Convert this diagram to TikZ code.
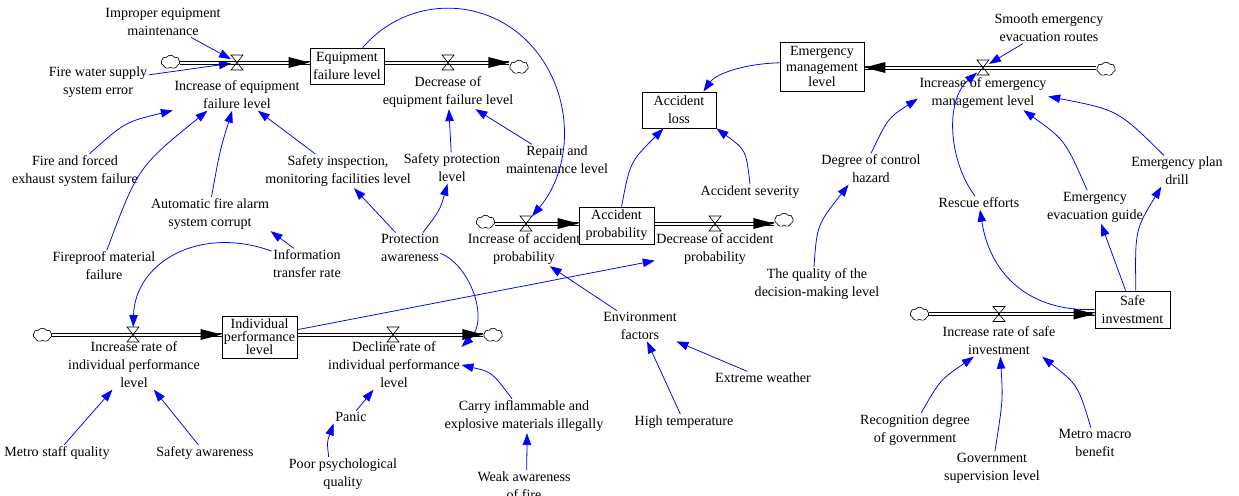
\documentclass[tikz,border=0pt]{standalone}
\usepackage{fontspec}
\setmainfont{Liberation Serif}
\usetikzlibrary{arrows.meta,shapes.symbols,shapes.geometric}
% filled head of a flow pipe; #2 = 1 points right, -1 points left
\newcommand\flowhead[2]{\fill[black] (#1) -- ++(#2*-21,-5.5) -- ++(0,11) -- cycle;}
% a flow pipe: two parallel black rails
\newcommand\flowpipe[2]{%
  \draw[rail] ([yshift=-1.05pt]#1) -- ([yshift=-1.05pt]#2);
  \draw[rail] ([yshift=1.05pt]#1) -- ([yshift=1.05pt]#2);}
\begin{document}
\begin{tikzpicture}[x=0.025cm,y=-0.025cm,
  lbl/.style={align=center,inner sep=1pt,font=\fontsize{10}{12.8}\selectfont,text=black},
  stock/.style={draw=black,line width=0.6pt,align=center,inner sep=0pt,font=\fontsize{10}{12.8}\selectfont},
  valve/.style={minimum width=0.3cm,minimum height=0.375cm,inner sep=0pt,outer sep=0pt},
  valveline/.style={draw=black,line width=0.45pt},
  cloudsink/.style={cloud,cloud puffs=7,cloud puff arc=110,cloud ignores aspect,draw=black,line width=0.45pt,inner sep=0pt,minimum width=0.47cm,minimum height=0.34cm},
  rail/.style={draw=black,line width=0.6pt},
  conn/.style={draw=blue,line width=0.55pt,-{Triangle[length=8.5pt,width=6pt]}}]
\useasboundingbox (0,0) rectangle (1239,495);
\fill[white] (0,0) rectangle (1239,495);

% ---------- stocks ----------
\node[stock,minimum width=1.85cm,minimum height=0.9cm] (efl) at (347,66) {Equipment\\failure level};
\node[stock,minimum width=1.85cm,minimum height=0.9cm] (al) at (679,110) {Accident\\loss};
\node[stock,minimum width=2.1cm,minimum height=1.225cm,font=\fontsize{10}{11}\selectfont] (eml) at (822,66.5) {Emergency\\management\\level};
\node[stock,minimum width=1.875cm,minimum height=0.925cm] (apb) at (616.5,225.5) {Accident\\probability};
\node[stock,minimum width=1.875cm,minimum height=1.05cm,font=\fontsize{10}{9.2}\selectfont] (ipl) at (259.5,337) {Individual\\performance\\level};
\node[stock,minimum width=1.875cm,minimum height=0.925cm] (si) at (1132.5,309.5) {Safe\\investment};

% ---------- valves ----------
\node[valve] (v1) at (237,62.5) {};
\node[valve] (v2) at (448,62.5) {};
\node[valve] (v3) at (526,223.5) {};
\node[valve] (v4) at (715,223.5) {};
\node[valve] (v5) at (983,67.5) {};
\node[valve] (v6) at (999,314) {};
\node[valve] (v7) at (133,334.5) {};
\node[valve] (v8) at (393,334.5) {};

% ---------- sources and sinks ----------
\node[cloudsink] (c1) at (170.5,62) {};
\node[cloudsink] (c2) at (519,67) {};
\node[cloudsink] (c3) at (485.5,222) {};
\node[cloudsink] (c4) at (784,220) {};
\node[cloudsink] (c5) at (1106,69) {};
\node[cloudsink] (c6) at (919.5,314) {};
\node[cloudsink] (c7) at (42.5,335) {};
\node[cloudsink] (c8) at (493,335) {};

% ---------- variables ----------
\node[lbl] (imp) at (163,22) {Improper equipment\\maintenance};
\node[lbl] (fws) at (98,82) {Fire water supply\\system error};
\node[lbl] (iefl) at (237,95) {Increase of equipment\\failure level};
\node[lbl] (defl) at (448,92) {Decrease of\\equipment failure level};
\node[lbl] (ffe) at (75,171) {Fire and forced\\exhaust system failure};
\node[lbl] (sim) at (338,171) {Safety inspection,\\monitoring facilities level};
\node[lbl] (spl) at (452,168) {Safety protection\\level};
\node[lbl] (rml) at (557,160) {Repair and\\maintenance level};
\node[lbl] (afa) at (210,214) {Automatic fire alarm\\system corrupt};
\node[lbl] (fmf) at (104,266) {Fireproof material\\failure};
\node[lbl] (info) at (307,264) {Information\\transfer rate};
\node[lbl] (pa) at (410,248) {Protection\\awareness};
\node[lbl] (iap) at (524,249) {Increase of accident\\probability};
\node[lbl] (dap) at (715,249) {Decrease of accident\\probability};
\node[lbl] (as) at (750,192) {Accident severity};
\node[lbl] (seer) at (1049,28) {Smooth emergency\\evacuation routes};
\node[lbl] (iem) at (983,93) {Increase of emergency\\management level};
\node[lbl] (dch) at (871,169) {Degree of control\\hazard};
\node[lbl] (re) at (979,203) {Rescue efforts};
\node[lbl] (eeg) at (1095,207) {Emergency\\evacuation guide};
\node[lbl] (epd) at (1177,171) {Emergency plan\\drill};
\node[lbl] (tqd) at (817,284) {The quality of the\\decision-making level};
\node[lbl] (irsi) at (999,341) {Increase rate of safe\\investment};
\node[lbl] (rdg) at (915,430) {Recognition degree\\of government};
\node[lbl] (gsl) at (992,468) {Government\\supervision level};
\node[lbl] (mmb) at (1095,443) {Metro macro\\benefit};
\node[lbl] (env) at (640,326) {Environment\\factors};
\node[lbl] (ew) at (763,378) {Extreme weather};
\node[lbl] (ht) at (684,422) {High temperature};
\node[lbl] (cim) at (524,416) {Carry inflammable and\\explosive materials illegally};
\node[lbl] (waf) at (524,486) {Weak awareness\\of fire};
\node[lbl] (irip) at (134,365) {Increase rate of\\individual performance\\level};
\node[lbl] (dril) at (394,365) {Decline rate of\\individual performance\\level};
\node[lbl] (msq) at (57,453) {Metro staff quality};
\node[lbl] (sa) at (205,453) {Safety awareness};
\node[lbl] (panic) at (351,417) {Panic};
\node[lbl] (ppq) at (343,474) {Poor psychological\\quality};

% ---------- causal links ----------
% equipment failure
\draw[conn] (imp) -- (v1);
\draw[conn] (fws.8) -- (v1);
\draw[conn] (ffe.50) .. controls (125,122) .. (iefl);
\draw[conn] (afa.85) .. controls (220,150) .. (iefl);
\draw[conn] (fmf.80) .. controls (138,167) .. (iefl.-152);
\draw[conn] (sim) -- (iefl);
\draw[conn] (spl) -- (defl);
\draw[conn] (rml) -- (defl);
\draw[conn] (pa) -- (sim);
\draw[conn] (pa.50) .. controls (440,210) .. (spl);
\draw[conn] (info.130) -- (afa.south east);
\draw[conn] (efl) .. controls (406,-3) and (482,-5) .. (528,42) .. controls (574,89) and (575,165) .. (v3);

% individual performance
\draw[conn] (info) .. controls (200,225) and (135,262) .. (v7);
\draw[conn] (pa.-10) .. controls (470,265) and (490,320) .. (dril.15);
\draw[conn] (ipl) -- (dap);
\draw[conn] (msq) -- (irip);
\draw[conn] (sa) -- (irip);
\draw[conn] (panic) -- (dril);
\draw[conn] (ppq.130) .. controls (327,442) .. (panic.south west);
\draw[conn] (cim.125) .. controls (492,372) .. (dril.east);
\draw[conn] (waf.80) -- (cim.-80);

% accident probability and loss
\draw[conn] (env) -- (iap);
\draw[conn] (ew) -- (env);
\draw[conn] (ht) -- (env);
\draw[conn] (apb.75) .. controls (630,162) .. (al.-130);
\draw[conn] (as.north) .. controls (746,150) .. (al.south east);
\draw[conn] (eml.175) .. controls (740,64) and (715,75) .. (al.37);

% emergency management
\draw[conn] (seer) -- (v5);
\draw[conn] (dch.north) .. controls (888,118) .. (iem.185);
\draw[conn] (tqd.100) .. controls (817,225) .. (dch.-145);
\draw[conn] (re.120) .. controls (948,160) and (945,100) .. (v5);
\draw[conn] (eeg.115) .. controls (1065,140) .. (iem.-23);
\draw[conn] (epd.130) .. controls (1118,110) .. (iem.-3);
\draw[conn] (si.west) .. controls (1030,312) and (990,275) .. (re);
\draw[conn] (si.110) -- (eeg);
\draw[conn] (si.80) .. controls (1135,230) .. (epd.-135);

% safe investment
\draw[conn] (rdg.70) .. controls (940,380) .. (irsi.-148);
\draw[conn] (gsl.80) .. controls (1003,400) .. (irsi.-85);
\draw[conn] (mmb.105) .. controls (1078,385) .. (irsi.-20);

% ---------- flow pipes ----------
\flowpipe{c1.east |- v1}{v1 -| efl.west}
\flowpipe{v2 -| efl.east}{v2 -| c2.west}
\flowpipe{c3.east |- v3}{v3 -| apb.west}
\flowpipe{v4 -| apb.east}{v4 -| c4.west}
\flowpipe{c5.west |- v5}{v5 -| eml.east}
\flowpipe{c6.east |- v6}{v6 -| si.west}
\flowpipe{c7.east |- v7}{v7 -| ipl.west}
\flowpipe{v8 -| ipl.east}{v8 -| c8.west}

\coordinate (h1) at (v1 -| efl.west);
\coordinate (h2) at (v2 -| c2.west);
\coordinate (h3) at (v3 -| apb.west);
\coordinate (h4) at (v4 -| c4.west);
\coordinate (h5) at (v5 -| eml.east);
\coordinate (h6) at (v6 -| si.west);
\coordinate (h7) at (v7 -| ipl.west);
\coordinate (h8) at (v8 -| c8.west);
\flowhead{h1}{1}
\flowhead{h2}{1}
\flowhead{h3}{1}
\flowhead{h4}{1}
\flowhead{h5}{-1}
\flowhead{h6}{1}
\flowhead{h7}{1}
\flowhead{h8}{1}

% ---------- valve bodies ----------
\foreach \v in {v1,v2,v3,v4,v5,v6,v7,v8}
  \draw[valveline] (\v.north west) -- (\v.north east) -- (\v.south west) -- (\v.south east) -- cycle;
\end{tikzpicture}
\end{document}
